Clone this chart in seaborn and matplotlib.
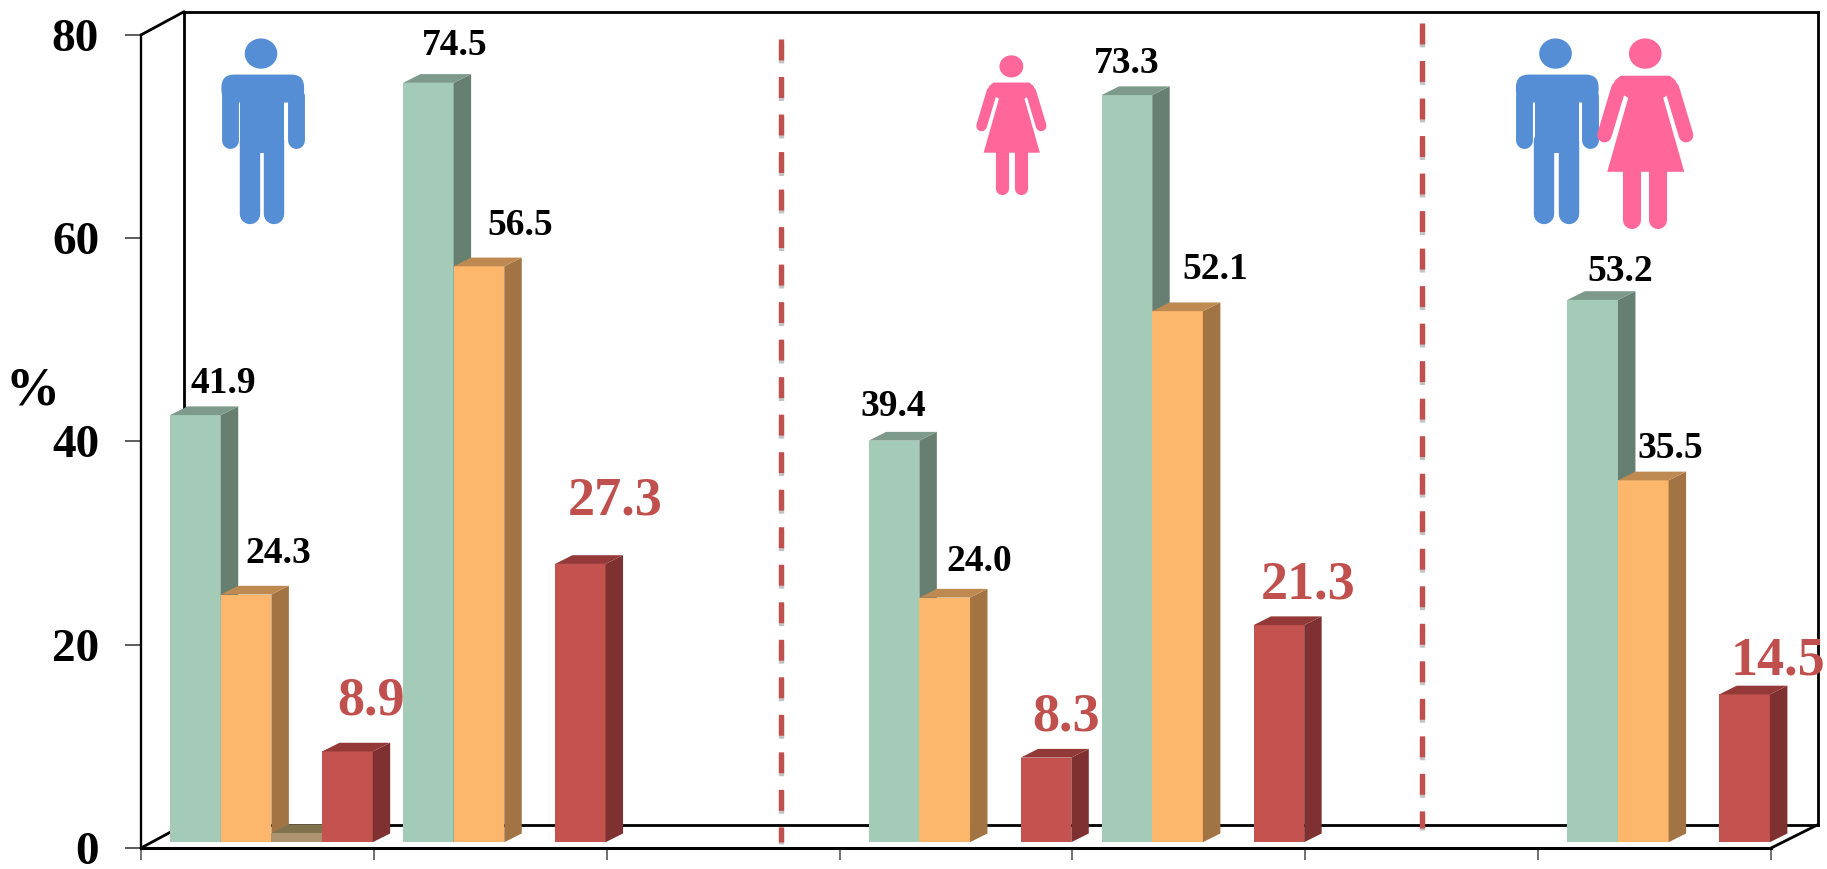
import numpy as np
import pandas as pd
import matplotlib
matplotlib.use("Agg")
import matplotlib.pyplot as plt
import matplotlib.patheffects as pe
from matplotlib.colors import to_hex
from matplotlib.lines import Line2D
from matplotlib.patches import Ellipse, FancyBboxPatch, Polygon, Rectangle
import seaborn as sns

groups = ["men_a", "men_b", "gap_a", "women_a", "women_b", "gap_b", "all"]
series = ["first", "second", "third", "fourth"]
first = [41.9, 74.5, np.nan, 39.4, 73.3, np.nan, 53.2]
second = [24.3, 56.5, np.nan, 24.0, 52.1, np.nan, 35.5]
third = [0.9, np.nan, np.nan, np.nan, np.nan, np.nan, np.nan]
fourth = [8.9, 27.3, np.nan, 8.3, 21.3, np.nan, 14.5]
yticks = [0, 20, 40, 60, 80]

front = ["#A3CBB8", "#FDB76C", "#AD9470", "#C4524F"]
side = ["#677F71", "#A37443", "#80714F", "#7E3130"]
top = ["#7E9A8B", "#BE8A52", "#80714F", "#933A38"]

# label offsets from the middle of the bar top, reference px, bars left to right
label_offsets = [(24, 27), (28, 35), None, (20, 43), (23, 32), (35, 35), (30, 54),
                 (-1, 29), (30, 31), (17, 34), (0, 27), (32, 36), (25, 34),
                 (24, 24), (23, 27), (29, 28)]

REF_W, REF_H = 1568, 746
SCALE = 1827 / REF_W
LW = SCALE * 72 / 100  # reference px to points


def box(x0, y0, x1, y1):
    return [x0 / REF_W, 1 - y1 / REF_H, (x1 - x0) / REF_W, (y1 - y0) / REF_H]


def fig_line(fig, x0, y0, x1, y1):
    fig.add_artist(Line2D([x0 / REF_W, x1 / REF_W], [1 - y0 / REF_H, 1 - y1 / REF_H],
                          color="black", lw=2.4 * LW, solid_capstyle="round", zorder=1))


def draw_man(ax, cx, cy, s, color):
    ax.add_patch(Ellipse((cx, cy), 28 * s, 26 * s, color=color, lw=0))
    ax.add_patch(FancyBboxPatch((cx - 34 * s, cy + 18 * s), 71 * s, 24 * s, lw=0, color=color,
                                boxstyle=f"round,pad=0,rounding_size={11 * s}"))
    ax.add_patch(Rectangle((cx - 18 * s, cy + 25 * s), 38 * s, 60 * s, color=color, lw=0))
    for x in (-26.75, 29.75):
        ax.plot([cx + x * s, cx + x * s], [cy + 36 * s, cy + 74 * s], color=color,
                lw=14.5 * s * LW, solid_capstyle="round")
    for x in (-9.5, 11.5):
        ax.plot([cx + x * s, cx + x * s], [cy + 75 * s, cy + 138 * s], color=color,
                lw=17.5 * s * LW, solid_capstyle="round")


def draw_woman(ax, cx, cy, s, color):
    ax.add_patch(Ellipse((cx, cy), 28 * s, 26 * s, color=color, lw=0))
    body = [(-21, 19), (21, 19), (26, 23), (28, 30), (15.4, 38), (33.5, 101.5),
            (-32.6, 101.5), (-14.6, 38), (-28, 30), (-26, 23)]
    ax.add_patch(Polygon([(cx + x * s, cy + y * s) for x, y in body], color=color, lw=0))
    for x0, x1 in ((-23, -35), (23, 35)):
        ax.plot([cx + x0 * s, cx + x1 * s], [cy + 30 * s, cy + 70 * s], color=color,
                lw=12.5 * s * LW, solid_capstyle="round")
    for x in (-11, 11):
        ax.plot([cx + x * s, cx + x * s], [cy + 95 * s, cy + 143 * s], color=color,
                lw=15.5 * s * LW, solid_capstyle="round")


sns.set_theme(style="white")
plt.rcParams["font.family"] = "Liberation Serif"
plt.rcParams["font.weight"] = "bold"

df = pd.DataFrame({"group": groups * 4,
                   "series": np.repeat(series, len(groups)),
                   "value": first + second + third + fourth})

fig = plt.figure(figsize=(18.27, 8.69), dpi=100, facecolor="white")

# back wall of the box
wall = fig.add_axes(box(158, 10, 1560, 708), zorder=0)
wall.set_xticks([])
wall.set_yticks([])
for sp in wall.spines.values():
    sp.set_visible(True)
    sp.set_color("black")
    sp.set_linewidth(2.4 * LW)

fig_line(fig, 121, 30, 158, 10)
fig_line(fig, 121, 728, 158, 708)
fig_line(fig, 1520, 728, 1560, 708)

# front plane, carries the value axis
ax = fig.add_axes(box(121, 30, 1520, 728), zorder=1)
ax.patch.set_alpha(0)
ax.set_xlim(0, 7)
ax.set_ylim(0, 80)
ax.set_xticks(range(8))
ax.set_xticklabels([])
ax.set_yticks(yticks)
ax.tick_params(axis="y", length=14 * LW, width=1.6 * LW, color="#555555", pad=22 * LW,
               labelsize=34, labelcolor="black", labelleft=True, left=True)
ax.tick_params(axis="x", length=10 * LW, width=1.4 * LW, color="#555555", bottom=True)
for lab in ax.get_yticklabels():
    lab.set_va("center_baseline")
sns.despine(ax=ax, top=True, right=True)
ax.spines["left"].set_color("black")
ax.spines["bottom"].set_color("black")
ax.spines["left"].set_linewidth(2 * LW)
ax.spines["bottom"].set_linewidth(2.6 * LW)
ax.set_ylabel("")
ax.text(28 / REF_W, 1 - 336 / REF_H, "%", transform=fig.transFigure, fontsize=39,
        ha="center", va="center", color="black")

# dashed separators, drawn downwards so the first dash starts at the top
for x, y0, y1 in ((2.747, 0.995, 0.008), (5.5, 1.015, 0.025)):
    ax.plot([x, x], [y0 * 80, y1 * 80], color="#C0504D", lw=4.6 * LW, clip_on=False,
            linestyle=(0, (3.9, 3.1)), solid_capstyle="butt",
            path_effects=[pe.SimpleLineShadow(offset=(0, -2), shadow_color="#555555", alpha=0.35),
                          pe.Normal()])

# bars sit a bit behind the front plane
bar_ax = fig.add_axes(box(133, 23, 1532, 723), zorder=2)
bar_ax.patch.set_alpha(0)
sns.barplot(data=df, x="group", y="value", hue="series", order=groups, hue_order=series,
            palette=front, saturation=1, width=0.87, gap=0, legend=False, ax=bar_ax)
bar_ax.set_xlim(-0.5, 6.5)
bar_ax.set_ylim(0, 80)
bar_ax.axis("off")

DX = 15 / (1399 / 7)
DY = 7.5 / 8.75
colours = [to_hex(c) for c in front]
bars = sorted([p for p in bar_ax.patches if p.get_height() > 0], key=lambda p: p.get_x())
for i, (p, off) in enumerate(zip(bars, label_offsets)):
    k = colours.index(to_hex(p.get_facecolor()))
    x0, x1, h = p.get_x(), p.get_x() + p.get_width(), p.get_height()
    p.set_zorder(3 + i * 0.01)
    p.set_linewidth(0)
    bar_ax.add_patch(Polygon([(x1, 0), (x1 + DX, DY), (x1 + DX, h + DY), (x1, h)],
                             color=side[k], lw=0, zorder=3 + i * 0.01, clip_on=False))
    bar_ax.add_patch(Polygon([(x0, h), (x0 + DX, h + DY), (x1 + DX, h + DY), (x1, h)],
                             color=top[k], lw=0, zorder=3 + i * 0.01, clip_on=False))
    if off is None:
        continue
    big = k == 3
    bar_ax.annotate(f"{h:.1f}", xy=((x0 + x1) / 2, h), xytext=(off[0] * SCALE, off[1] * SCALE),
                    textcoords="offset pixels", ha="center", va="center", zorder=10,
                    fontsize=39 if big else 27, color="#C0504D" if big else "black",
                    annotation_clip=False)

# people icons, overlay in reference px
icons = fig.add_axes([0, 0, 1, 1], zorder=3)
icons.patch.set_alpha(0)
icons.set_xlim(0, REF_W)
icons.set_ylim(REF_H, 0)
icons.axis("off")
draw_man(icons, 224, 46, 1, "#558ED5")
draw_woman(icons, 868, 57, 0.73, "#FF6699")
draw_man(icons, 1335, 46, 1, "#558ED5")
draw_woman(icons, 1412, 46, 1, "#FF6699")

plt.savefig("out.png", dpi=100)
